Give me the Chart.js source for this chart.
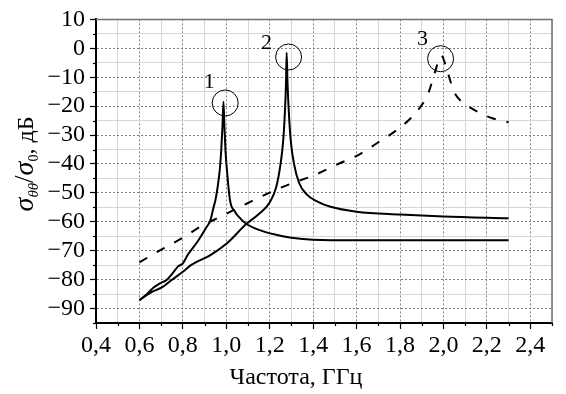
<!DOCTYPE html>
<html><head><meta charset="utf-8">
<script src="https://cdn.jsdelivr.net/npm/chart.js@4.4.1/dist/chart.umd.min.js"></script>
<style>html,body{margin:0;padding:0;background:#fff}#wrap{width:566px;height:394px}</style>
</head><body><div id="wrap"><canvas id="c" width="566" height="394"></canvas></div>
<script>
// ---- data ----
const curve1X = [0.60,0.635,0.665,0.695,0.725,0.755,0.777,0.80,0.822,0.867,0.905,0.927,0.942,0.95,0.96,0.97,0.977,0.983,0.987,0.991,0.996,1.003,1.017,1.04,1.06,1.09,1.15,1.23,1.30,1.40,1.60,1.90,2.30];
const curve1Y = [-87.1,-85,-82.7,-81.3,-80.1,-77.6,-75.5,-74.4,-71.5,-66.9,-62.3,-59.4,-54.8,-52.5,-48,-42,-35,-26,-18.5,-26,-35,-42,-52.5,-56.5,-58.5,-60.6,-62.8,-64.5,-65.5,-66.2,-66.4,-66.4,-66.4];
const curve2X = [0.60,0.658,0.703,0.747,0.80,0.837,0.927,1.002,1.092,1.15,1.20,1.23,1.25,1.262,1.27,1.275,1.278,1.282,1.288,1.297,1.312,1.335,1.37,1.42,1.48,1.60,1.80,2.00,2.30];
const curve2Y = [-87,-84.2,-82.7,-80.2,-77.3,-75,-71.5,-67.5,-60.8,-57.3,-53.3,-48,-40,-32,-22,-12,-1.5,-12,-22,-32,-40,-46.5,-50.5,-53,-54.8,-56.5,-57.5,-58.2,-58.8];
const curve3X = [0.60,0.715,0.80,0.885,0.98,1.10,1.245,1.42,1.515,1.605,1.69,1.784,1.87,1.93,1.96,1.99,2.02,2.05,2.09,2.135,2.18,2.225,2.30];
const curve3Y = [-74,-69,-65.5,-61.5,-58,-53.5,-48.4,-43.4,-40,-37,-33,-28.3,-22.5,-15.6,-8.5,-2.5,-8.5,-15.2,-18.8,-21,-22.8,-24.2,-25.6];
const peakX = [0.995, 1.287, 1.987];
const peakY = [-18.9, -3.0, -3.6];
const peakLabels = ['1', '2', '3'];
const xTickValues = [0.4,0.6,0.8,1.0,1.2,1.4,1.6,1.8,2.0,2.2,2.4];
const yTickValues = [10,0,-10,-20,-30,-40,-50,-60,-70,-80,-90];
const xTitle = 'Частота, ГГц';

const toPts = (xs, ys) => xs.map((x, i) => ({x, y: ys[i]}));
const SERIF = '"Liberation Serif", "Times New Roman", serif';
const isMajorX = v => xTickValues.some(t => Math.abs(t - v) < 1e-6);
const isMajorY = v => yTickValues.some(t => Math.abs(t - v) < 1e-6);

const framePlugin = {
  id: 'frame',
  afterDraw(chart) {
    const {ctx, chartArea: a, scales} = chart;
    ctx.save();
    ctx.strokeStyle = '#707070'; ctx.lineWidth = 1.5;
    ctx.beginPath(); ctx.moveTo(a.left, a.top); ctx.lineTo(a.right, a.top); ctx.lineTo(a.right, a.bottom); ctx.stroke();
    ctx.strokeStyle = '#000'; ctx.lineWidth = 1.2;
    scales.x.ticks.forEach(t => {
      if (isMajorX(t.value)) return;
      const px = Math.round(scales.x.getPixelForValue(t.value)) + 0.5;
      ctx.beginPath(); ctx.moveTo(px, a.bottom); ctx.lineTo(px, a.bottom + 3); ctx.stroke();
    });
    scales.y.ticks.forEach(t => {
      if (isMajorY(t.value)) return;
      const py = Math.round(scales.y.getPixelForValue(t.value)) + 0.5;
      ctx.beginPath(); ctx.moveTo(a.left, py); ctx.lineTo(a.left - 3, py); ctx.stroke();
    });
    ctx.fillStyle = '#000'; ctx.font = '22px ' + SERIF; ctx.textAlign = 'center'; ctx.textBaseline = 'middle';
    const offs = [[-16, -21], [-22, -14], [-18, -20]];
    peakLabels.forEach((s, i) => {
      const px = scales.x.getPixelForValue(peakX[i]) + offs[i][0];
      const py = scales.y.getPixelForValue(peakY[i]) + offs[i][1];
      ctx.fillText(s, px, py);
    });
    ctx.font = '24px ' + SERIF; ctx.textBaseline = 'alphabetic';
    ctx.fillText(xTitle, 296, 384);
    ctx.translate(33, 164); ctx.rotate(-Math.PI / 2);
    const parts = [
      {t: 'σ', f: 'italic 28px ' + SERIF, dy: 0},
      {t: 'θθ', f: 'italic 15px ' + SERIF, dy: 5},
      {t: '/', f: '27px ' + SERIF, dy: 0},
      {t: 'σ', f: 'italic 28px ' + SERIF, dy: 0},
      {t: '0', f: '14px ' + SERIF, dy: 5},
      {t: ', дБ', f: '24px ' + SERIF, dy: 0}
    ];
    let total = 0;
    parts.forEach(p => { ctx.font = p.f; p.w = ctx.measureText(p.t).width; total += p.w; });
    let x = -total / 2;
    ctx.textAlign = 'left';
    parts.forEach(p => { ctx.font = p.f; ctx.fillText(p.t, x, p.dy); x += p.w; });
    ctx.restore();
  }
};

new Chart(document.getElementById('c'), {
  type: 'scatter',
  data: {
    datasets: [
      {data: toPts(curve1X, curve1Y), showLine: true, borderColor: '#000', borderWidth: 2, pointRadius: 0, cubicInterpolationMode: 'monotone'},
      {data: toPts(curve2X, curve2Y), showLine: true, borderColor: '#000', borderWidth: 2, pointRadius: 0, cubicInterpolationMode: 'monotone'},
      {data: toPts(curve3X, curve3Y), showLine: true, borderColor: '#000', borderWidth: 2, borderDash: [9, 11], pointRadius: 0, cubicInterpolationMode: 'monotone'},
      {data: toPts(peakX, peakY), showLine: false, pointRadius: 13, pointStyle: 'circle', borderColor: '#000', borderWidth: 1, backgroundColor: 'rgba(0,0,0,0)', pointHoverRadius: 13}
    ]
  },
  options: {
    responsive: false, animation: false, events: [],
    layout: {padding: {left: 0, right: 2, top: 19, bottom: 0}},
    plugins: {legend: {display: false}, tooltip: {enabled: false}},
    scales: {
      x: {
        type: 'linear', min: 0.4, max: 2.5,
        afterFit: s => { s.height = 71; },
        ticks: {
          stepSize: 0.1, autoSkip: false, maxRotation: 0, padding: 2,
          color: '#000', font: {family: SERIF, size: 24},
          callback: v => isMajorX(v) ? v.toFixed(1).replace('.', ',') : ''
        },
        grid: {
          color: c => (c.tick && isMajorX(c.tick.value)) ? '#808080' : '#d6d6d6',
          lineWidth: 1, tickLength: 6,
          tickColor: c => (c.tick && isMajorX(c.tick.value)) ? '#000' : 'rgba(0,0,0,0)',
          tickWidth: 1.2
        },
        border: {display: true, color: '#000', width: 2,
          dash: c => (c.tick && isMajorX(c.tick.value)) ? [2, 2] : []}
      },
      y: {
        type: 'linear', min: -95, max: 10,
        afterFit: s => { s.width = 96; },
        ticks: {
          stepSize: 5, autoSkip: false, padding: 5,
          color: '#000', font: {family: SERIF, size: 24},
          callback: v => isMajorY(v) ? (v < 0 ? '\u2212' + Math.abs(v) : String(v)) : ''
        },
        grid: {
          color: c => (c.tick && isMajorY(c.tick.value)) ? '#808080' : '#d6d6d6',
          lineWidth: 1, tickLength: 6,
          tickColor: c => (c.tick && isMajorY(c.tick.value)) ? '#000' : 'rgba(0,0,0,0)',
          tickWidth: 1.2
        },
        border: {display: true, color: '#000', width: 2,
          dash: c => (c.tick && isMajorY(c.tick.value)) ? [2, 2] : []}
      }
    }
  },
  plugins: [framePlugin]
});
</script></body></html>
